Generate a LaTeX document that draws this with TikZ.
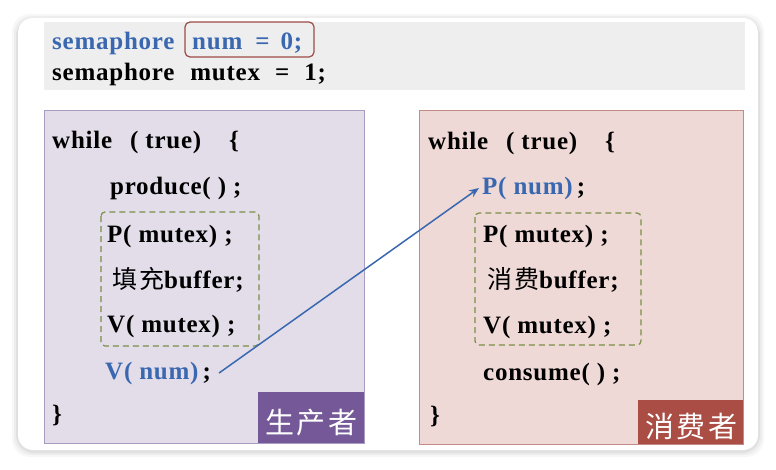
\documentclass[tikz,border=0pt]{standalone}
\usepackage{fontspec}
\setmainfont{Liberation Serif}[LetterSpace=3]
\newfontfamily\cjk{Noto Sans CJK SC}[LetterSpace=8]
\newfontfamily\cjktag{Noto Sans CJK SC}[LetterSpace=10]
\usetikzlibrary{positioning, arrows.meta}

\definecolor{codeblue}{HTML}{3A68B0}
\definecolor{bandgray}{HTML}{EEEEEE}
\definecolor{declred}{HTML}{9E4A46}
\definecolor{prodfill}{HTML}{E2DDE9}
\definecolor{prodline}{HTML}{A99CC3}
\definecolor{prodtag}{HTML}{745898}
\definecolor{consfill}{HTML}{EED9D6}
\definecolor{consline}{HTML}{C48A84}
\definecolor{constag}{HTML}{A94D45}
\definecolor{critline}{HTML}{7B8E48}

\newcommand{\gap}[1]{\hspace*{#1pt}}

\tikzset{
  code/.style={anchor=west, inner sep=0pt, font=\bfseries\fontsize{25}{28}\selectfont},
  bluecode/.style={code, text=codeblue},
  tag/.style={anchor=south east, inner sep=0pt, text=white,
    font=\cjktag\fontsize{29}{31}\selectfont},
  critbox/.style={draw=critline, dash pattern=on 6pt off 4pt, line width=1.2pt,
    rounded corners=4pt},
}

\begin{document}
\begin{tikzpicture}[x=1pt, y=-1pt]
        \useasboundingbox (0,0) rectangle (776,469);
        \fill[white] (0,0) rectangle (776,469);

        % Card with soft shadow
        \foreach \s/\o in {6/0.03, 4/0.04, 2/0.05}
          \fill[black, opacity=\o, rounded corners=18pt]
            (18-\s,20-\s) rectangle (758+\s,451+\s);
        \fill[white, rounded corners=15pt] (18,18) rectangle (758,450);

        % Shared declarations
        \fill[bandgray] (44,22) rectangle (745,90);
        \node[bluecode] (semkw) at (52,43) {semaphore};
        \node[draw=declred, line width=1.2pt, rounded corners=5pt, minimum width=129pt,
          minimum height=35pt, inner sep=0pt] (numdecl) at (249.5,39.5) {};
        \node[bluecode] (numinit) at (192,43) {num\gap{13}=\gap{11}0;};
        \node[code] (mutexdecl) at (52,74) {semaphore\gap{16}mutex\gap{15}=\gap{15}1;};

        % Producer panel
        \draw[prodline, fill=prodfill] (44,110) rectangle (364,443);
        \fill[prodtag] (258,392) rectangle (364,443);
        \node[tag] (prodname) at (358,436) {生产者};
        \draw[critbox] (101,212) rectangle (259,346);
        \node[code] (pwhile) at (52,142) {while\gap{18}( true)\gap{28}\{};
        \node[code] (produce) at (110,188) {produce( ) ;};
        \node[code] (pmutex1) at (107,236) {P( mutex) ;};
        \node[code] (fill) at (112,280) {{\mdseries\cjk 填充}buffer;};
        \node[code] (vmutex1) at (107,326) {V( mutex) ;};
        \node[bluecode] (vnum) at (105,373) {V( num)\gap{4}\textcolor{black}{;}};
        \node[code] (pend) at (52,415) {\}};

        % Consumer panel
        \draw[consline, fill=consfill] (419,110) rectangle (743,444);
        \fill[constag] (638,400) rectangle (743,444);
        \node[tag] (consname) at (738,440) {消费者};
        \draw[critbox] (475,213) rectangle (641,345);
        \node[code] (cwhile) at (428,143) {while\gap{18}( true)\gap{28}\{};
        \node[bluecode] (pnum) at (482,188) {P( num)\gap{4}\textcolor{black}{;}};
        \node[code] (pmutex2) at (483,236) {P( mutex) ;};
        \node[code] (take) at (487,280) {{\mdseries\cjk 消费}buffer;};
        \node[code] (vmutex2) at (483,327) {V( mutex) ;};
        \node[code] (consume) at (483,374) {consume( ) ;};
        \node[code] (cend) at (430,416) {\}};

        % Signal from producer to consumer
        \draw[-{Stealth[length=10pt, width=8pt]}, line width=1.5pt, codeblue]
          ([xshift=8pt]vnum.east) -- ([xshift=-3pt]pnum.west);
\end{tikzpicture}
\end{document}
